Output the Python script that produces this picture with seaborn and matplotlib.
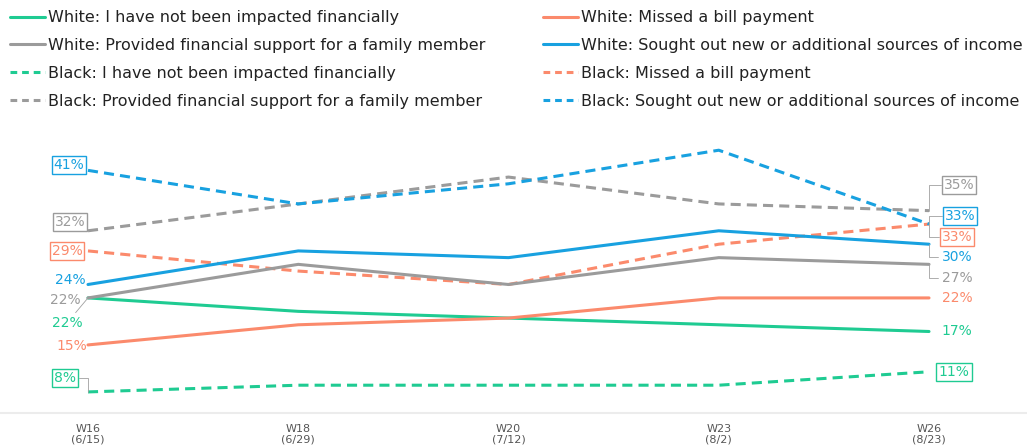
import matplotlib
matplotlib.use("Agg")
import matplotlib.pyplot as plt
from matplotlib.lines import Line2D
import numpy as np
import pandas as pd
import seaborn as sns

# Survey waves (x axis)
waves = ["W16\n(6/15)", "W18\n(6/29)", "W20\n(7/12)", "W23\n(8/2)", "W26\n(8/23)"]

# Percent of respondents, by race and financial impact
white_not_impacted = [22, 20, 19, 18, 17]
white_missed_bill = [15, 18, 19, 22, 22]
white_family_support = [22, 27, 24, 28, 27]
white_new_income = [24, 29, 28, 32, 30]
black_not_impacted = [8, 9, 9, 9, 11]
black_missed_bill = [29, 26, 24, 30, 33]
black_family_support = [32, 36, 40, 36, 35]
black_new_income = [41, 36, 39, 44, 33]

measures = [
    "I have not been impacted financially",
    "Missed a bill payment",
    "Provided financial support for a family member",
    "Sought out new or additional sources of income",
]
series = {
    ("White", measures[0]): white_not_impacted,
    ("White", measures[1]): white_missed_bill,
    ("White", measures[2]): white_family_support,
    ("White", measures[3]): white_new_income,
    ("Black", measures[0]): black_not_impacted,
    ("Black", measures[1]): black_missed_bill,
    ("Black", measures[2]): black_family_support,
    ("Black", measures[3]): black_new_income,
}

GREEN = "#1fcb92"
ORANGE = "#fb8a6c"
GRAY = "#9b9b9b"
BLUE = "#18a1e0"
palette = dict(zip(measures, [GREEN, ORANGE, GRAY, BLUE]))

rows = []
for (race, measure), vals in series.items():
    for i, v in enumerate(vals):
        rows.append({"pos": i, "value": v, "race": race, "measure": measure})
df = pd.DataFrame(rows)

sns.set_style("white")
plt.rcParams["font.family"] = ["DejaVu Sans"]

fig = plt.figure(figsize=(10.27, 4.46), dpi=100)
ax = fig.add_axes([0, 33 / 446, 1, 293 / 446])

LW = 2.2
sns.lineplot(
    data=df, x="pos", y="value", hue="measure", style="race",
    palette=palette, dashes={"White": "", "Black": (3.3, 2.0)},
    linewidth=LW, legend=False, ax=ax, sort=False,
)

ax.set_xlim(-0.4185, 4.466)
ax.set_ylim(4.86, 48.5)
ax.set_xticks(range(len(waves)))
ax.set_xticklabels(waves, fontsize=8, color="#555555", linespacing=1.1)
ax.tick_params(axis="x", length=0, pad=8)
ax.set_yticks([])
ax.set_xlabel("")
ax.set_ylabel("")
for side in ["top", "left", "right"]:
    ax.spines[side].set_visible(False)
ax.spines["bottom"].set_color("#ececec")
ax.spines["bottom"].set_linewidth(1.5)

LABEL_FS = 10
LEADER = dict(arrowstyle="-", color="#a0a0a0", lw=0.6, shrinkA=0, shrinkB=0)


def label(idx, vals, color, dx, dy, boxed=False, leader=None):
    v = vals[idx]
    kw = {}
    if boxed:
        kw["bbox"] = dict(boxstyle="square,pad=0.15", fc="white", ec=color, lw=1.0)
    if leader is not None:
        kw["arrowprops"] = dict(LEADER, connectionstyle=leader)
    ax.annotate(f"{v}%", xy=(idx, v), xytext=(dx, dy), textcoords="offset pixels",
                ha="center", va="center", fontsize=LABEL_FS, color=color, zorder=5, **kw)


# Labels at the first wave
label(0, black_new_income, BLUE, -19, 5, boxed=True)
label(0, black_family_support, GRAY, -18, 9, boxed=True)
label(0, black_missed_bill, ORANGE, -21, 0, boxed=True)
label(0, white_new_income, BLUE, -18, 4)
label(0, white_family_support, GRAY, -23, -2)
label(0, white_not_impacted, GREEN, -21, -25, leader="arc3")
label(0, white_missed_bill, ORANGE, -16, -1)
label(0, black_not_impacted, GREEN, -23, 14, boxed=True, leader="angle,angleA=0,angleB=90,rad=0")

# Labels at the last wave
last = len(waves) - 1
label(last, black_family_support, GRAY, 30, 26, boxed=True, leader="angle,angleA=0,angleB=90,rad=0")
label(last, black_new_income, BLUE, 31, 8, boxed=True, leader="angle,angleA=0,angleB=90,rad=0")
label(last, black_missed_bill, ORANGE, 28, -13, boxed=True, leader="angle,angleA=0,angleB=90,rad=0")
label(last, white_new_income, BLUE, 28, -13, leader="angle,angleA=0,angleB=90,rad=0")
label(last, white_family_support, GRAY, 28, -14, leader="angle,angleA=0,angleB=90,rad=0")
label(last, white_missed_bill, ORANGE, 28, 0)
label(last, white_not_impacted, GREEN, 28, 0)
label(last, black_not_impacted, GREEN, 25, 0, boxed=True)

# Two-column legend
def handle(color, race):
    if race == "White":
        return Line2D([], [], color=color, lw=LW)
    return Line2D([], [], color=color, lw=LW, dashes=(2.2, 1.6))

left_items = [("White", measures[0]), ("White", measures[2]), ("Black", measures[0]), ("Black", measures[2])]
right_items = [("White", measures[1]), ("White", measures[3]), ("Black", measures[1]), ("Black", measures[3])]
for items, x0 in [(left_items, 7 / 1027), (right_items, 540 / 1027)]:
    hs = [handle(palette[m], r) for r, m in items]
    labs = [f"{r}: {m}" for r, m in items]
    fig.legend(hs, labs, loc="upper left", bbox_to_anchor=(x0, 1 - 7 / 446),
               frameon=False, fontsize=11.5, handlelength=2.2, handletextpad=0.15,
               labelspacing=0.8, borderpad=0.2, borderaxespad=0,
               labelcolor="#222222")

fig.savefig("out.png", dpi=100, facecolor="white")
